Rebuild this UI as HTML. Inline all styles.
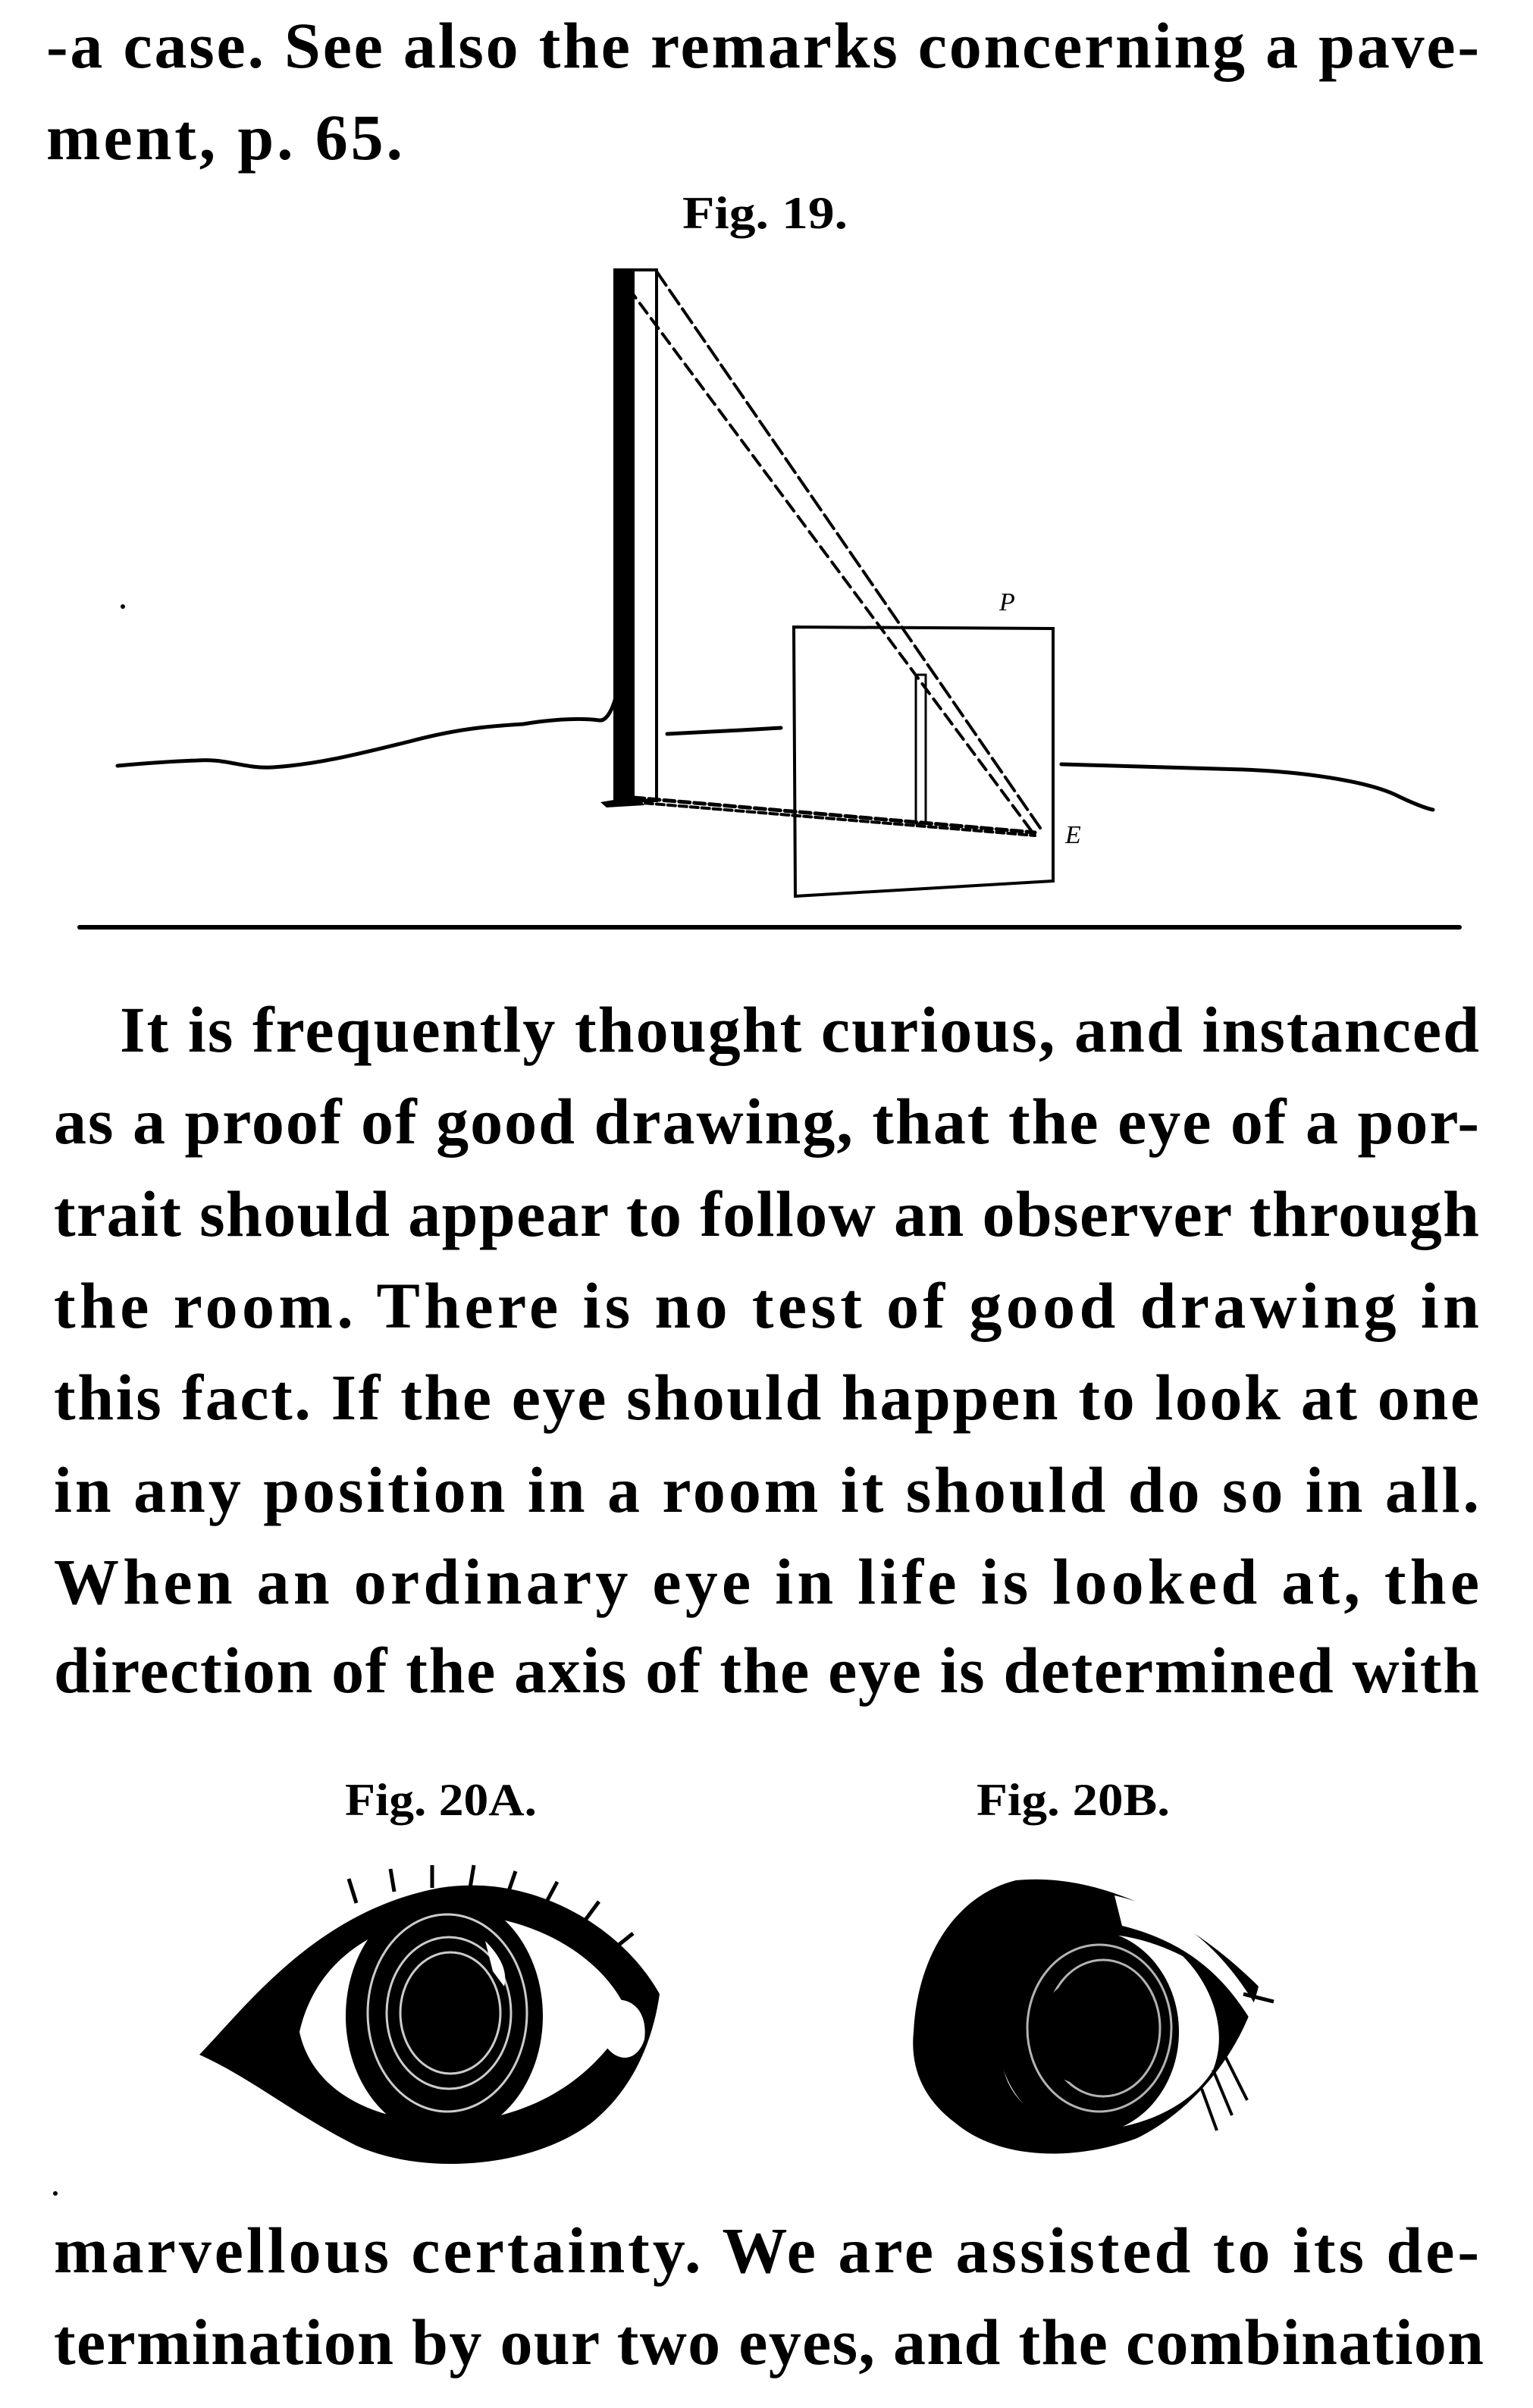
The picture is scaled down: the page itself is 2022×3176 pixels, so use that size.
<!DOCTYPE html>
<html><head><meta charset="utf-8"><style>
html,body{margin:0;padding:0;background:#fff;}
svg{display:block;}
text{font-family:"Liberation Serif",serif;font-weight:bold;fill:#000;}
.t{font-size:86px;}
.c{font-size:60px;}
</style></head><body>
<svg width="2022" height="3176" viewBox="0 0 2022 3176" xmlns="http://www.w3.org/2000/svg">
<rect width="2022" height="3176" fill="#fff"/>
<text class="t" x="61" y="89" textLength="1890" lengthAdjust="spacing">-a case.  See also the remarks concerning a pave-</text>
<text class="t" x="61" y="210" textLength="470" lengthAdjust="spacing">ment, p. 65.</text>
<text class="c" x="900" y="301" textLength="218" lengthAdjust="spacingAndGlyphs">Fig. 19.</text>

<g fill="none" stroke="#000" stroke-linecap="round">
  <path d="M155 1010 C200 1006 230 1004 260 1003 C300 1000 320 1014 360 1012 C420 1008 470 995 540 978 C600 962 640 958 690 955 C720 950 760 946 790 950 C800 952 808 935 812 920" stroke-width="5"/>
  <path d="M880 968 C920 966 980 963 1030 960" stroke-width="5"/>
  <path d="M1400 1008 C1480 1010 1560 1012 1640 1015 C1720 1018 1800 1030 1840 1048 C1860 1058 1880 1066 1890 1068" stroke-width="5"/>
  <rect x="835" y="356" width="31" height="700" stroke-width="4" fill="#fff"/>
  <line x1="866" y1="358" x2="1372" y2="1092" stroke-width="4" stroke-dasharray="22 8"/>
  <line x1="829" y1="380" x2="1362" y2="1098" stroke-width="4" stroke-dasharray="16 9"/>
  <line x1="836" y1="1052" x2="1365" y2="1098" stroke-width="5" stroke-dasharray="14 6"/>
  <line x1="836" y1="1058" x2="1365" y2="1102" stroke-width="4" stroke-dasharray="10 5"/>
  <path d="M1047 827 L1389 829 L1389 1162 L1049 1182 Z" stroke-width="4"/>
  <rect x="1208" y="890" width="13" height="196" stroke-width="3"/>
  <line x1="105" y1="1223" x2="1925" y2="1223" stroke-width="6"/>
</g>
<rect x="809" y="354" width="27" height="704" fill="#000"/>
<path d="M792 1058 L840 1050 L850 1062 L800 1065 Z" fill="#000"/>
<circle cx="162" cy="800" r="3" fill="#000"/>
<text x="1318" y="805" style="font-size:34px;font-weight:normal;font-style:italic">P</text>
<text x="1405" y="1112" style="font-size:34px;font-weight:normal;font-style:italic">E</text>

<text class="t" x="158" y="1387" textLength="1793" lengthAdjust="spacing">It is frequently thought curious, and instanced</text>
<text class="t" x="71" y="1508" textLength="1880" lengthAdjust="spacing">as a proof of good drawing, that the eye of a por-</text>
<text class="t" x="71" y="1630" textLength="1880" lengthAdjust="spacing">trait should appear to follow an observer through</text>
<text class="t" x="71" y="1751" textLength="1880" lengthAdjust="spacing">the room.  There is no test of good drawing in</text>
<text class="t" x="71" y="1872" textLength="1880" lengthAdjust="spacing">this fact.  If the eye should happen to look at one</text>
<text class="t" x="71" y="1994" textLength="1880" lengthAdjust="spacing">in any position in a room it should do so in all.</text>
<text class="t" x="71" y="2115" textLength="1880" lengthAdjust="spacing">When an ordinary eye in life is looked at, the</text>
<text class="t" x="71" y="2232" textLength="1880" lengthAdjust="spacing">direction of the axis of the eye is determined with</text>

<text class="c" x="455" y="2394" textLength="253" lengthAdjust="spacingAndGlyphs">Fig. 20A.</text>
<text class="c" x="1288" y="2394" textLength="255" lengthAdjust="spacingAndGlyphs">Fig. 20B.</text>

<!-- Eye A -->
<g>
  <path d="M263 2710 C330 2640 420 2520 580 2490 C700 2470 820 2540 870 2630 C860 2700 830 2760 780 2800 C700 2860 560 2870 470 2830 C390 2790 330 2740 263 2710 Z" fill="#000"/>
  <path d="M395 2680 C420 2570 520 2530 600 2525 C700 2525 800 2580 830 2660 C790 2730 720 2790 600 2800 C480 2800 410 2750 395 2680 Z" fill="#fff"/>
  <ellipse cx="586" cy="2659" rx="130" ry="160" fill="#000"/>
  <g fill="none" stroke="#fff" stroke-width="3" opacity="0.8">
    <ellipse cx="590" cy="2655" rx="105" ry="130"/>
    <ellipse cx="592" cy="2655" rx="82" ry="100"/>
    <ellipse cx="594" cy="2655" rx="66" ry="80"/>
  </g>
  <ellipse cx="595" cy="2655" rx="50" ry="62" fill="#000"/>
  <path d="M640 2560 C660 2580 670 2600 665 2620 L650 2600 Z" fill="#fff"/>
  <path d="M800 2640 C830 2630 855 2650 850 2690 C840 2720 815 2720 800 2700 Z" fill="#fff"/>
  <g stroke="#000" stroke-width="5">
    <line x1="470" y1="2510" x2="460" y2="2478"/><line x1="520" y1="2495" x2="515" y2="2465"/>
    <line x1="570" y1="2490" x2="570" y2="2460"/><line x1="620" y1="2490" x2="625" y2="2460"/>
    <line x1="670" y1="2497" x2="680" y2="2468"/><line x1="720" y1="2510" x2="735" y2="2482"/>
    <line x1="770" y1="2535" x2="790" y2="2508"/><line x1="810" y1="2570" x2="835" y2="2550"/>
  </g>
</g>

<!-- Eye B -->
<g>
  <path d="M1205 2680 C1210 2580 1260 2500 1340 2480 C1440 2470 1560 2520 1660 2620 C1640 2700 1580 2780 1500 2820 C1420 2850 1320 2850 1260 2800 C1220 2770 1200 2730 1205 2680 Z" fill="#000"/>
  <path d="M1470 2500 C1560 2520 1620 2580 1665 2660 L1650 2665 C1610 2600 1560 2560 1480 2540 Z" fill="#fff"/>
  <path d="M1360 2590 C1400 2540 1480 2540 1560 2580 C1600 2620 1620 2680 1600 2730 C1570 2780 1500 2810 1430 2810 C1360 2800 1320 2760 1320 2700 C1320 2660 1335 2620 1360 2590 Z" fill="#fff"/>
  <ellipse cx="1435" cy="2680" rx="120" ry="135" fill="#000"/>
  <g fill="none" stroke="#fff" stroke-width="3" opacity="0.7">
    <ellipse cx="1450" cy="2675" rx="95" ry="110"/>
    <ellipse cx="1455" cy="2675" rx="75" ry="90"/>
  </g>
  <ellipse cx="1425" cy="2680" rx="55" ry="68" fill="#000"/>
  <line x1="1640" y1="2630" x2="1680" y2="2640" stroke="#000" stroke-width="5"/>
  <g stroke="#000" stroke-width="4">
    <line x1="1600" y1="2730" x2="1625" y2="2790"/><line x1="1615" y1="2710" x2="1645" y2="2770"/>
    <line x1="1585" y1="2755" x2="1605" y2="2810"/>
  </g>
</g>
<circle cx="73" cy="2893" r="3" fill="#000"/>

<text class="t" x="71" y="2997" textLength="1880" lengthAdjust="spacing">marvellous certainty.  We are assisted to its de-</text>
<text class="t" x="71" y="3118" textLength="1886" lengthAdjust="spacing">termination by our two eyes, and the combination</text>
</svg>
</body></html>
